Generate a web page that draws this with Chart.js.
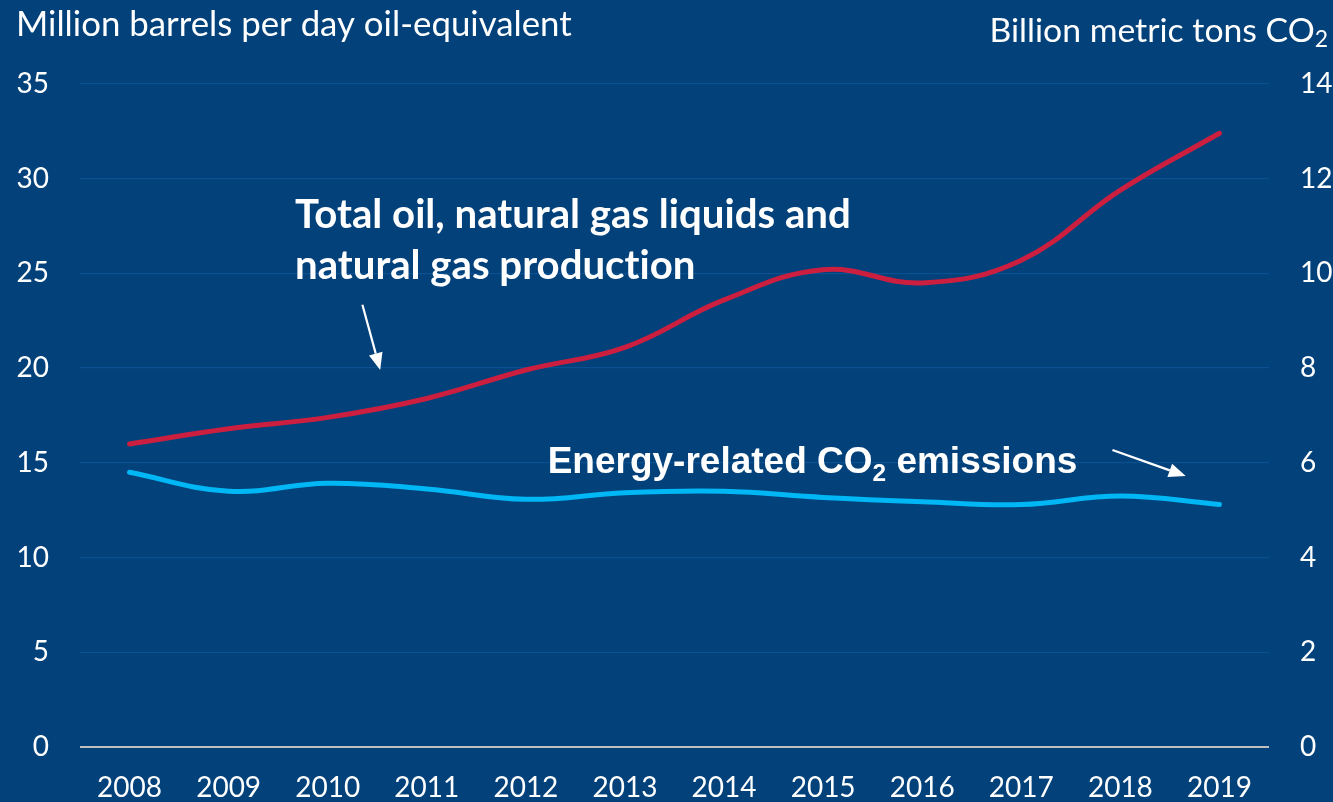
<!DOCTYPE html>
<html>
<head>
<meta charset="utf-8">
<script src="https://cdn.jsdelivr.net/npm/chart.js@4/dist/chart.umd.min.js"></script>
<style>
html,body{margin:0;padding:0;background:#02417A;}
#wrap{width:1333px;height:802px;position:relative;}
</style>
</head>
<body>
<div id="wrap"><canvas id="c"></canvas></div>
<script>
const years = ['2008','2009','2010','2011','2012','2013','2014','2015','2016','2017','2018','2019'];
const productionMbd = [16.0, 16.8, 17.4, 18.4, 19.9, 21.1, 23.6, 25.2, 24.5, 25.7, 29.4, 32.4];
const co2Billion = [5.80, 5.40, 5.57, 5.45, 5.23, 5.37, 5.40, 5.27, 5.18, 5.12, 5.30, 5.12];
const leftTicks = [0, 5, 10, 15, 20, 25, 30, 35];
const rightTicks = [0, 2, 4, 6, 8, 10, 12, 14];
const leftTitle = 'Million barrels per day oil-equivalent';
const rightTitle = 'Billion metric tons CO';
const label1 = ['Total oil, natural gas liquids and', 'natural gas production'];
const label2 = 'Energy-related CO';

const BG = '#02417A';
const GRID = '#0B5191';
const RED = '#CC1F40';
const BLUE = '#00B7F5';
const TICK_FONT = 'Lato, "Open Sans", sans-serif';

function fitFont(ctx, text, weight, family, targetW) {
  ctx.font = weight + ' 100px ' + family;
  const w = ctx.measureText(text).width;
  return 100 * targetW / w;
}

// draw text without "ti" ligatures by splitting before each 't'
function drawNoLig(ctx, text, x0, y0) {
  const parts = text.split(/(?=ti)/);
  let cx = x0;
  for (const p of parts) {
    if (p.startsWith('ti')) {
      ctx.fillText('t', cx, y0);
      cx += ctx.measureText('t').width;
      ctx.fillText(p.slice(1), cx, y0);
      cx += ctx.measureText(p.slice(1)).width;
    } else {
      ctx.fillText(p, cx, y0);
      cx += ctx.measureText(p).width;
    }
  }
}

const overlay = {
  id: 'overlay',
  beforeDraw(chart) {
    const ctx = chart.ctx;
    ctx.save();
    ctx.fillStyle = BG;
    ctx.fillRect(0, 0, chart.width, chart.height);
    ctx.restore();
  },
  afterDatasetsDraw(chart) {
    const ctx = chart.ctx;
    const x = chart.scales.x, y = chart.scales.y;
    ctx.save();
    ctx.fillStyle = '#ffffff';
    ctx.strokeStyle = '#ffffff';
    ctx.textBaseline = 'middle';
    // axis titles
    let fs = fitFont(ctx, leftTitle, '400', TICK_FONT, 556);
    ctx.font = '400 ' + fs + 'px ' + TICK_FONT;
    ctx.textAlign = 'left';
    ctx.fillText(leftTitle, 16, 25);
    const rfs = fs * 0.97;
    ctx.font = '400 ' + rfs + 'px ' + TICK_FONT;
    const rw = ctx.measureText(rightTitle).width;
    ctx.font = '400 ' + (rfs * 0.68) + 'px ' + TICK_FONT;
    const sw = ctx.measureText('2').width;
    const rx = 1328 - sw - rw;
    ctx.font = '400 ' + rfs + 'px ' + TICK_FONT;
    ctx.fillText(rightTitle, rx, 31);
    ctx.font = '400 ' + (rfs * 0.68) + 'px ' + TICK_FONT;
    ctx.fillText('2', rx + rw, 40);

    // annotation 1
    const f1 = fitFont(ctx, label1[0], '700', TICK_FONT, 556);
    ctx.font = '700 ' + f1 + 'px ' + TICK_FONT;
    const ax1 = x.getPixelForValue(1.67);
    drawNoLig(ctx, label1[0], ax1, y.getPixelForValue(28.1));
    drawNoLig(ctx, label1[1], ax1, y.getPixelForValue(25.4));

    // annotation 2
    const AF = '"Liberation Sans", Arial, sans-serif';
    const f2 = 37;
    ctx.font = '700 ' + f2 + 'px ' + AF;
    const ax2 = x.getPixelForValue(4.22);
    const ay2 = y.getPixelForValue(15.0);
    ctx.fillText(label2, ax2, ay2);
    let w2 = ctx.measureText(label2).width;
    ctx.font = '700 ' + (f2 * 0.66) + 'px ' + AF;
    ctx.fillText('2', ax2 + w2, ay2 + 11);
    const w3 = ctx.measureText('2').width;
    ctx.font = '700 ' + f2 + 'px ' + AF;
    ctx.fillText(' emissions', ax2 + w2 + w3, ay2);

    // arrows
    function arrow(i0, v0, i1, v1) {
      const x0 = x.getPixelForValue(i0), y0 = y.getPixelForValue(v0);
      const x1 = x.getPixelForValue(i1), y1 = y.getPixelForValue(v1);
      const a = Math.atan2(y1 - y0, x1 - x0);
      const L = 17, W = 7;
      const bx = x1 - L * Math.cos(a), by = y1 - L * Math.sin(a);
      ctx.lineWidth = 2.2;
      ctx.beginPath();
      ctx.moveTo(x0, y0);
      ctx.lineTo(bx, by);
      ctx.stroke();
      ctx.beginPath();
      ctx.moveTo(x1, y1);
      ctx.lineTo(bx + W * Math.sin(a), by - W * Math.cos(a));
      ctx.lineTo(bx - W * Math.sin(a), by + W * Math.cos(a));
      ctx.closePath();
      ctx.fill();
    }
    arrow(2.35, 23.35, 2.53, 19.9);
    arrow(9.92, 15.68, 10.66, 14.3);
    ctx.restore();
  }
};

new Chart(document.getElementById('c'), {
  type: 'line',
  data: {
    labels: years,
    datasets: [
      { label: 'Production', data: productionMbd, yAxisID: 'y', borderColor: RED, borderWidth: 5,
        pointRadius: 0, tension: 0.4, borderCapStyle: 'round', fill: false },
      { label: 'CO2', data: co2Billion, yAxisID: 'y2', borderColor: BLUE, borderWidth: 5,
        pointRadius: 0, tension: 0.4, borderCapStyle: 'round', fill: false }
    ]
  },
  options: {
    responsive: true,
    maintainAspectRatio: false,
    animation: false,
    layout: { padding: { top: 84, left: 0, right: 0, bottom: 0 } },
    plugins: { legend: { display: false }, tooltip: { enabled: false } },
    scales: {
      x: {
        offset: true,
        grid: { display: false, drawTicks: false },
        border: { display: false },
        ticks: { color: '#ffffff', font: { family: TICK_FONT, size: 28 }, padding: 24, maxRotation: 0, autoSkip: false },
        afterFit(s) { s.height = 55; }
      },
      y: {
        position: 'left', min: 0, max: 35,
        afterBuildTicks(s) { s.ticks = leftTicks.map(v => ({ value: v })); },
        grid: {
          drawTicks: false,
          color: c => c.tick && c.tick.value === 0 ? '#BFBFBF' : GRID,
          lineWidth: c => c.tick && c.tick.value === 0 ? 2 : 1.3
        },
        border: { display: false },
        ticks: { color: '#ffffff', font: { family: TICK_FONT, size: 28 }, padding: 31 },
        afterFit(s) { s.width = 80; }
      },
      y2: {
        position: 'right', min: 0, max: 14,
        afterBuildTicks(s) { s.ticks = rightTicks.map(v => ({ value: v })); },
        grid: { display: false, drawTicks: false },
        border: { display: false },
        ticks: { color: '#ffffff', font: { family: TICK_FONT, size: 28 }, padding: 31 },
        afterFit(s) { s.width = 64; }
      }
    }
  },
  plugins: [overlay]
});
</script>
</body>
</html>
